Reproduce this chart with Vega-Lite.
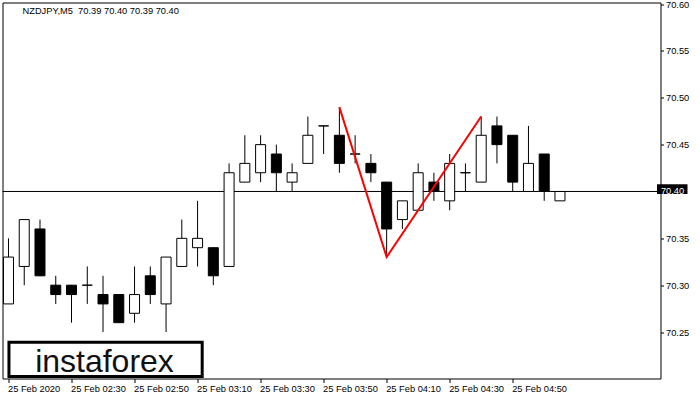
{
  "$schema": "https://vega.github.io/schema/vega-lite/v6.json",
  "width": 658,
  "height": 376,
  "autosize": {"type": "none"},
  "padding": {"left": 2.5, "top": 2.5, "right": 39.5, "bottom": 21.5},
  "background": "white",
  "config": {
    "view": {"stroke": "black", "strokeWidth": 1},
    "axis": {
      "grid": false,
      "domain": false,
      "tickColor": "black",
      "labelColor": "black",
      "labelFont": "Liberation Sans",
      "labelFontSize": 9.3,
      "title": null
    }
  },
  "datasets": {
    "candles": [
      {"t": "2020-02-25T02:10:00Z", "o": 70.28, "h": 70.35, "l": 70.28, "c": 70.33},
      {"t": "2020-02-25T02:15:00Z", "o": 70.32, "h": 70.37, "l": 70.30, "c": 70.37},
      {"t": "2020-02-25T02:20:00Z", "o": 70.36, "h": 70.37, "l": 70.31, "c": 70.31},
      {"t": "2020-02-25T02:25:00Z", "o": 70.30, "h": 70.31, "l": 70.28, "c": 70.29},
      {"t": "2020-02-25T02:30:00Z", "o": 70.30, "h": 70.30, "l": 70.26, "c": 70.29},
      {"t": "2020-02-25T02:35:00Z", "o": 70.30, "h": 70.32, "l": 70.28, "c": 70.30},
      {"t": "2020-02-25T02:40:00Z", "o": 70.29, "h": 70.31, "l": 70.25, "c": 70.28},
      {"t": "2020-02-25T02:45:00Z", "o": 70.29, "h": 70.29, "l": 70.26, "c": 70.26},
      {"t": "2020-02-25T02:50:00Z", "o": 70.27, "h": 70.32, "l": 70.26, "c": 70.29},
      {"t": "2020-02-25T02:55:00Z", "o": 70.31, "h": 70.32, "l": 70.28, "c": 70.29},
      {"t": "2020-02-25T03:00:00Z", "o": 70.28, "h": 70.33, "l": 70.25, "c": 70.33},
      {"t": "2020-02-25T03:05:00Z", "o": 70.32, "h": 70.37, "l": 70.32, "c": 70.35},
      {"t": "2020-02-25T03:10:00Z", "o": 70.34, "h": 70.39, "l": 70.32, "c": 70.35},
      {"t": "2020-02-25T03:15:00Z", "o": 70.34, "h": 70.34, "l": 70.30, "c": 70.31},
      {"t": "2020-02-25T03:20:00Z", "o": 70.32, "h": 70.43, "l": 70.32, "c": 70.42},
      {"t": "2020-02-25T03:25:00Z", "o": 70.41, "h": 70.46, "l": 70.41, "c": 70.43},
      {"t": "2020-02-25T03:30:00Z", "o": 70.42, "h": 70.46, "l": 70.41, "c": 70.45},
      {"t": "2020-02-25T03:35:00Z", "o": 70.44, "h": 70.45, "l": 70.40, "c": 70.42},
      {"t": "2020-02-25T03:40:00Z", "o": 70.41, "h": 70.43, "l": 70.40, "c": 70.42},
      {"t": "2020-02-25T03:45:00Z", "o": 70.43, "h": 70.48, "l": 70.43, "c": 70.46},
      {"t": "2020-02-25T03:50:00Z", "o": 70.47, "h": 70.47, "l": 70.44, "c": 70.47},
      {"t": "2020-02-25T03:55:00Z", "o": 70.46, "h": 70.49, "l": 70.42, "c": 70.43},
      {"t": "2020-02-25T04:00:00Z", "o": 70.44, "h": 70.46, "l": 70.43, "c": 70.44},
      {"t": "2020-02-25T04:05:00Z", "o": 70.43, "h": 70.44, "l": 70.41, "c": 70.42},
      {"t": "2020-02-25T04:10:00Z", "o": 70.41, "h": 70.41, "l": 70.33, "c": 70.36},
      {"t": "2020-02-25T04:15:00Z", "o": 70.37, "h": 70.39, "l": 70.36, "c": 70.39},
      {"t": "2020-02-25T04:20:00Z", "o": 70.38, "h": 70.43, "l": 70.38, "c": 70.42},
      {"t": "2020-02-25T04:25:00Z", "o": 70.41, "h": 70.42, "l": 70.39, "c": 70.40},
      {"t": "2020-02-25T04:30:00Z", "o": 70.39, "h": 70.44, "l": 70.38, "c": 70.43},
      {"t": "2020-02-25T04:35:00Z", "o": 70.42, "h": 70.43, "l": 70.40, "c": 70.42},
      {"t": "2020-02-25T04:40:00Z", "o": 70.41, "h": 70.48, "l": 70.41, "c": 70.46},
      {"t": "2020-02-25T04:45:00Z", "o": 70.47, "h": 70.48, "l": 70.43, "c": 70.45},
      {"t": "2020-02-25T04:50:00Z", "o": 70.46, "h": 70.46, "l": 70.40, "c": 70.41},
      {"t": "2020-02-25T04:55:00Z", "o": 70.40, "h": 70.47, "l": 70.40, "c": 70.43},
      {"t": "2020-02-25T05:00:00Z", "o": 70.44, "h": 70.44, "l": 70.39, "c": 70.40},
      {"t": "2020-02-25T05:05:00Z", "o": 70.39, "h": 70.40, "l": 70.39, "c": 70.40}
    ],
    "pattern": [
      {"t": "2020-02-25T03:55:00Z", "price": 70.49},
      {"t": "2020-02-25T04:10:00Z", "price": 70.33},
      {"t": "2020-02-25T04:40:00Z", "price": 70.48}
    ],
    "last": [
      {"price": 70.40, "label": "70.40", "watermark": "instaforex", "header": "NZDJPY,M5\u00a0\u00a070.39 70.40 70.39 70.40"}
    ]
  },
  "layer": [
    {
      "data": {"name": "last"},
      "mark": {"type": "rule", "color": "black", "strokeWidth": 1},
      "encoding": {
        "y": {"field": "price", "type": "quantitative"}
      }
    },
    {
      "data": {"name": "candles"},
      "mark": {"type": "rule", "color": "black", "strokeWidth": 1},
      "encoding": {
        "x": {
          "field": "t",
          "type": "temporal",
          "scale": {
            "type": "utc",
            "domain": [
              {"year": 2020, "month": 2, "date": 25, "hours": 2, "minutes": 9, "seconds": 41, "milliseconds": 250, "utc": true},
              {"year": 2020, "month": 2, "date": 25, "hours": 5, "minutes": 35, "seconds": 18, "milliseconds": 750, "utc": true}
            ]
          },
          "axis": {
            "orient": "bottom",
            "values": [
              {"year": 2020, "month": 2, "date": 25, "hours": 2, "minutes": 10, "utc": true},
              {"year": 2020, "month": 2, "date": 25, "hours": 2, "minutes": 30, "utc": true},
              {"year": 2020, "month": 2, "date": 25, "hours": 2, "minutes": 50, "utc": true},
              {"year": 2020, "month": 2, "date": 25, "hours": 3, "minutes": 10, "utc": true},
              {"year": 2020, "month": 2, "date": 25, "hours": 3, "minutes": 30, "utc": true},
              {"year": 2020, "month": 2, "date": 25, "hours": 3, "minutes": 50, "utc": true},
              {"year": 2020, "month": 2, "date": 25, "hours": 4, "minutes": 10, "utc": true},
              {"year": 2020, "month": 2, "date": 25, "hours": 4, "minutes": 30, "utc": true},
              {"year": 2020, "month": 2, "date": 25, "hours": 4, "minutes": 50, "utc": true}
            ],
            "labelExpr": "datum.index === 0 ? '25 Feb 2020' : utcFormat(datum.value, '%d %b %H:%M')",
            "labelAlign": "left",
            "labelBaseline": "top",
            "labelPadding": 1.5,
            "labelOffset": -1,
            "tickSize": 4,
            "labelOverlap": false,
            "labelFlush": false
          }
        },
        "y": {
          "field": "l",
          "type": "quantitative",
          "scale": {"domain": [70.2004, 70.6017], "nice": false, "zero": false},
          "axis": {
            "orient": "right",
            "values": [70.25, 70.3, 70.35, 70.45, 70.5, 70.55, 70.6],
            "format": ".2f",
            "tickSize": 3,
            "labelPadding": 2,
            "labelAlign": "left",
            "labelBaseline": "middle",
            "labelOverlap": false,
            "labelFlush": false
          }
        },
        "y2": {"field": "h"}
      }
    },
    {
      "data": {"name": "candles"},
      "mark": {"type": "bar", "size": 10, "stroke": "black", "strokeWidth": 1},
      "encoding": {
        "x": {"field": "t", "type": "temporal"},
        "y": {"field": "o", "type": "quantitative"},
        "y2": {"field": "c"},
        "fill": {
          "condition": {"test": "datum.c < datum.o", "value": "black"},
          "value": "white"
        }
      }
    },
    {
      "data": {"name": "pattern"},
      "mark": {"type": "line", "color": "#ff0000", "strokeWidth": 2},
      "encoding": {
        "x": {"field": "t", "type": "temporal"},
        "y": {"field": "price", "type": "quantitative"}
      }
    },
    {
      "data": {"name": "last"},
      "mark": {"type": "text", "font": "Liberation Sans", "fontSize": 9.3, "color": "black", "align": "left", "baseline": "alphabetic", "dx": 15, "dy": 11},
      "encoding": {
        "x": {"datum": {"year": 2020, "month": 2, "date": 25, "hours": 2, "minutes": 9, "seconds": 41, "milliseconds": 250, "utc": true}, "type": "temporal"},
        "y": {"datum": 70.6017, "type": "quantitative"},
        "text": {"field": "header"}
      }
    },
    {
      "data": {"name": "last"},
      "mark": {"type": "rect", "fill": "white", "stroke": "black", "strokeWidth": 3},
      "encoding": {
        "x": {"datum": {"year": 2020, "month": 2, "date": 25, "hours": 2, "minutes": 10, "seconds": 9, "utc": true}, "type": "temporal"},
        "x2": {"datum": {"year": 2020, "month": 2, "date": 25, "hours": 3, "minutes": 11, "seconds": 28, "utc": true}},
        "y": {"datum": 70.2026, "type": "quantitative"},
        "y2": {"datum": 70.2392}
      }
    },
    {
      "data": {"name": "last"},
      "mark": {"type": "text", "font": "Liberation Sans", "fontSize": 32, "color": "#111111", "align": "center", "baseline": "alphabetic"},
      "encoding": {
        "x": {"datum": {"year": 2020, "month": 2, "date": 25, "hours": 2, "minutes": 40, "seconds": 28, "utc": true}, "type": "temporal"},
        "y": {"datum": 70.2074, "type": "quantitative"},
        "text": {"field": "watermark"}
      }
    },
    {
      "data": {"name": "last"},
      "mark": {"type": "rect", "fill": "black", "clip": false},
      "encoding": {
        "x": {"datum": {"year": 2020, "month": 2, "date": 25, "hours": 5, "minutes": 35, "seconds": 47, "utc": true}, "type": "temporal"},
        "x2": {"datum": {"year": 2020, "month": 2, "date": 25, "hours": 5, "minutes": 45, "seconds": 28, "utc": true}},
        "y": {"datum": 70.3973, "type": "quantitative"},
        "y2": {"datum": 70.4077}
      }
    },
    {
      "data": {"name": "last"},
      "mark": {"type": "text", "font": "Liberation Sans", "fontSize": 9.3, "color": "white", "align": "left", "baseline": "middle", "clip": false},
      "encoding": {
        "x": {"datum": {"year": 2020, "month": 2, "date": 25, "hours": 5, "minutes": 37, "seconds": 2, "utc": true}, "type": "temporal"},
        "y": {"field": "price", "type": "quantitative"},
        "text": {"field": "label"}
      }
    }
  ]
}
